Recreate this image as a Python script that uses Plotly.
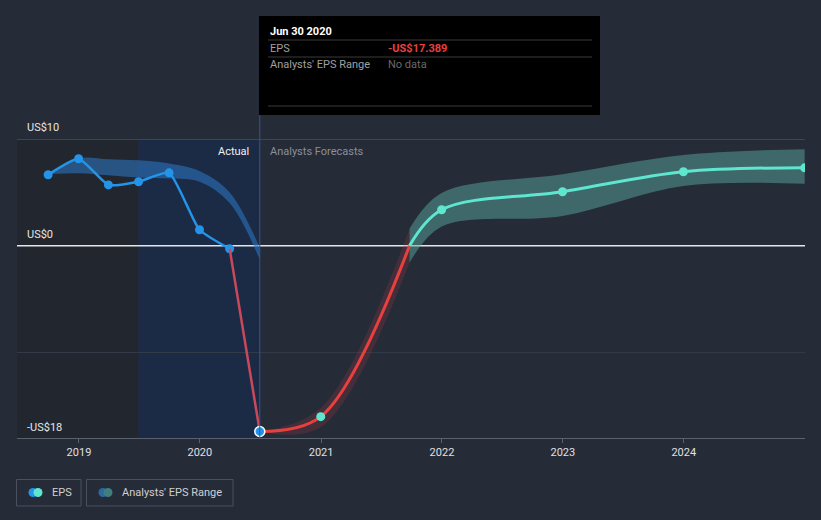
import plotly.graph_objects as go

# ---------------- data ----------------
actual_dates = ['2018-09-30', '2018-12-31', '2019-03-31', '2019-06-30',
                '2019-09-30', '2019-12-31', '2020-03-31']
actual_eps = [6.65, 8.15, 5.7, 6.0, 6.83, 1.5, -0.28]

drop_dates = ['2020-03-31', '2020-06-30']
drop_eps = [-0.28, -17.389]

past_band_dates = ['2018-09-30', '2018-12-31', '2019-03-31', '2019-06-30',
                   '2019-09-30', '2019-12-31', '2020-03-31', '2020-06-30']
past_band_low = [6.7, 6.8, 6.6, 6.4, 6.3, 6.0, 4.0, -1.3]
past_band_high = [6.8, 8.2, 8.1, 8.0, 7.7, 7.0, 5.0, -0.2]

# forecast line: negative part (red) and positive part (teal); zero crossing
neg_dates = ['2020-06-30', '2020-12-31', '2021-09-25']
neg_eps = [-17.389, -16.0, 0.0]
pos_dates = ['2021-09-25', '2021-12-31', '2022-12-31', '2023-12-31', '2024-12-31']
pos_eps = [0.0, 3.37, 5.06, 6.93, 7.3]

fc_marker_dates = ['2020-12-31', '2021-12-31', '2022-12-31', '2023-12-31', '2024-12-31']
fc_marker_eps = [-16.0, 3.37, 5.06, 6.93, 7.3]

neg_band_low = [-17.389, -17.0, -1.6]
neg_band_high = [-17.389, -15.2, 1.6]
pos_band_low = [-1.6, 1.8, 2.8, 5.6, 5.8]
pos_band_high = [1.6, 4.95, 6.7, 8.5, 9.05]

tick_years = ['2019', '2020', '2021', '2022', '2023', '2024']
y_labels = ['US$10', 'US$0', '-US$18']
y_label_vals = [10, 0, -18]

# ---------------- layout helpers ----------------
W, H = 821, 520
L, R, T, B = 17, 805, 139, 438


def px(x):
    return (x - L) / (R - L)


def py(y):
    return (B - y) / (B - T)


BG = '#262b38'
FONT = 'Roboto, Open Sans, sans-serif'

fig = go.Figure()

# past analysts band (blue)
fig.add_trace(go.Scatter(x=past_band_dates, y=past_band_low, mode='lines',
                         line=dict(width=0, shape='spline'), hoverinfo='skip', showlegend=False))
fig.add_trace(go.Scatter(x=past_band_dates, y=past_band_high, mode='lines', fill='tonexty',
                         fillcolor='rgba(45,115,190,0.6)',
                         line=dict(width=0, shape='spline'), hoverinfo='skip', showlegend=False))

# forecast bands
fig.add_trace(go.Scatter(x=neg_dates, y=neg_band_low, mode='lines',
                         line=dict(width=0, shape='spline'), hoverinfo='skip', showlegend=False))
fig.add_trace(go.Scatter(x=neg_dates, y=neg_band_high, mode='lines', fill='tonexty',
                         fillcolor='rgba(190,60,70,0.2)',
                         line=dict(width=0, shape='spline'), hoverinfo='skip', showlegend=False))
fig.add_trace(go.Scatter(x=pos_dates, y=pos_band_low, mode='lines',
                         line=dict(width=0, shape='spline'), hoverinfo='skip', showlegend=False))
fig.add_trace(go.Scatter(x=pos_dates, y=pos_band_high, mode='lines', fill='tonexty',
                         fillcolor='rgba(85,165,155,0.5)',
                         line=dict(width=0, shape='spline'), hoverinfo='skip', showlegend=False))

# actual EPS line
fig.add_trace(go.Scatter(x=actual_dates, y=actual_eps, mode='lines+markers',
                         line=dict(color='#2394e8', width=2.5, shape='spline', smoothing=0.5),
                         marker=dict(color='#2394e8', size=9), showlegend=False))
fig.add_trace(go.Scatter(x=drop_dates, y=drop_eps, mode='lines',
                         line=dict(color='#c8485c', width=2.5), showlegend=False))

# forecast line
fig.add_trace(go.Scatter(x=neg_dates, y=neg_eps, mode='lines',
                         line=dict(color='#e8403f', width=3, shape='spline'), showlegend=False))
fig.add_trace(go.Scatter(x=pos_dates, y=pos_eps, mode='lines',
                         line=dict(color='#5ee6cf', width=3, shape='spline'), showlegend=False))
fig.add_trace(go.Scatter(x=fc_marker_dates, y=fc_marker_eps, mode='markers',
                         marker=dict(color='#5ee6cf', size=9), showlegend=False))

# highlighted point
fig.add_trace(go.Scatter(x=[drop_dates[-1]], y=[drop_eps[-1]], mode='markers',
                         marker=dict(color='#2394e8', size=10, line=dict(color='white', width=1.5)),
                         showlegend=False))

shapes = []
# background regions
shapes.append(dict(type='rect', xref='paper', yref='paper', x0=0, x1=px(138), y0=0, y1=1,
                   fillcolor='#22262f', line=dict(width=0), layer='below'))
shapes.append(dict(type='rect', xref='x', yref='paper', x0='2019-06-30', x1='2020-06-30', y0=0, y1=1,
                   fillcolor='#1b2a45', line=dict(width=0), layer='below'))
# gridlines
shapes.append(dict(type='line', xref='paper', yref='y', x0=0, x1=1, y0=10, y1=10,
                   line=dict(color='#5a606c', width=1), layer='below'))
shapes.append(dict(type='line', xref='paper', yref='y', x0=0, x1=1, y0=-10, y1=-10,
                   line=dict(color='#353b48', width=1), layer='below'))
shapes.append(dict(type='line', xref='paper', yref='y', x0=0, x1=1, y0=0, y1=0,
                   line=dict(color='#e6e6e6', width=1.5), layer='below'))
# cursor line
shapes.append(dict(type='line', xref='x', yref='paper', x0='2020-06-30', x1='2020-06-30',
                   y0=0, y1=py(115), line=dict(color='#2d5b92', width=1)))
# tooltip
shapes.append(dict(type='rect', xref='paper', yref='paper', x0=px(259), x1=px(600),
                   y0=py(115), y1=py(16), fillcolor='#000000', line=dict(width=0)))
for yy in (40, 57, 106):
    shapes.append(dict(type='line', xref='paper', yref='paper', x0=px(268), x1=px(592),
                       y0=py(yy), y1=py(yy), line=dict(color='#3a3a3a', width=1)))
# legend boxes
shapes.append(dict(type='rect', xref='paper', yref='paper', x0=px(16.5), x1=px(81), y0=py(506), y1=py(479.5),
                   line=dict(color='#4a505c', width=1), fillcolor='rgba(0,0,0,0)'))
shapes.append(dict(type='rect', xref='paper', yref='paper', x0=px(86.5), x1=px(233), y0=py(506), y1=py(479.5),
                   line=dict(color='#4a505c', width=1), fillcolor='rgba(0,0,0,0)'))


def circle(cx, cy, r, color):
    return dict(type='circle', xref='paper', yref='paper', x0=px(cx - r), x1=px(cx + r),
                y0=py(cy + r), y1=py(cy - r), fillcolor=color, line=dict(width=0))


shapes += [circle(33, 492.5, 4.5, '#2394e8'), circle(38, 492.5, 4.5, '#5ee6cf'),
           circle(103, 492.5, 4.5, '#2a6aa0'), circle(108, 492.5, 4.5, '#3f7f7c')]

annotations = []


def text(x, y, s, color='#d8d8d8', size=11, anchor='left', bold=False):
    annotations.append(dict(xref='paper', yref='paper', x=px(x), y=py(y), text=('<b>%s</b>' % s) if bold else s,
                            showarrow=False, xanchor=anchor, yanchor='middle',
                            font=dict(color=color, size=size, family=FONT)))


for lab, yy in zip(y_labels, [127, 234, 427]):
    text(25, yy, lab, color='#e6e6e6')
text(251, 151, 'Actual', color='#f0f0f0', anchor='right')
text(268, 151, 'Analysts Forecasts', color='#8a8f99')
text(268, 31, 'Jun 30 2020', color='#ffffff', bold=True)
text(268, 48, 'EPS', color='#a0a0a0')
text(386, 48, '-US$17.389', color='#e8403f', bold=True)
text(268, 65, "Analysts' EPS Range", color='#a0a0a0')
text(386, 65, 'No data', color='#6a6a6a')
text(50, 492.5, 'EPS', color='#d0d0d0')
text(120, 492.5, "Analysts' EPS Range", color='#d0d0d0')

fig.update_layout(
    width=W, height=H,
    margin=dict(l=L, r=W - R, t=T, b=H - B),
    paper_bgcolor=BG, plot_bgcolor=BG,
    shapes=shapes, annotations=annotations,
    font=dict(family=FONT, color='#d8d8d8', size=11),
    hovermode=False,
    xaxis=dict(range=['2018-06-28', '2025-01-01'], type='date',
               tickvals=[y + '-01-01' for y in tick_years], ticktext=tick_years,
               showgrid=False, zeroline=False, showline=True, linecolor='#5a606c', linewidth=1,
               ticks='outside', ticklen=4, tickcolor='#5a606c',
               tickfont=dict(color='#e0e0e0', size=11, family=FONT), fixedrange=True),
    yaxis=dict(range=[-18, 10], showgrid=False, zeroline=False, showticklabels=False,
               showline=False, fixedrange=True),
)

fig.write_html('out.html', config={'displayModeBar': False},
               post_script="document.body.style.margin='0';document.body.style.padding='0';"
                           "document.body.style.background='" + BG + "';")
